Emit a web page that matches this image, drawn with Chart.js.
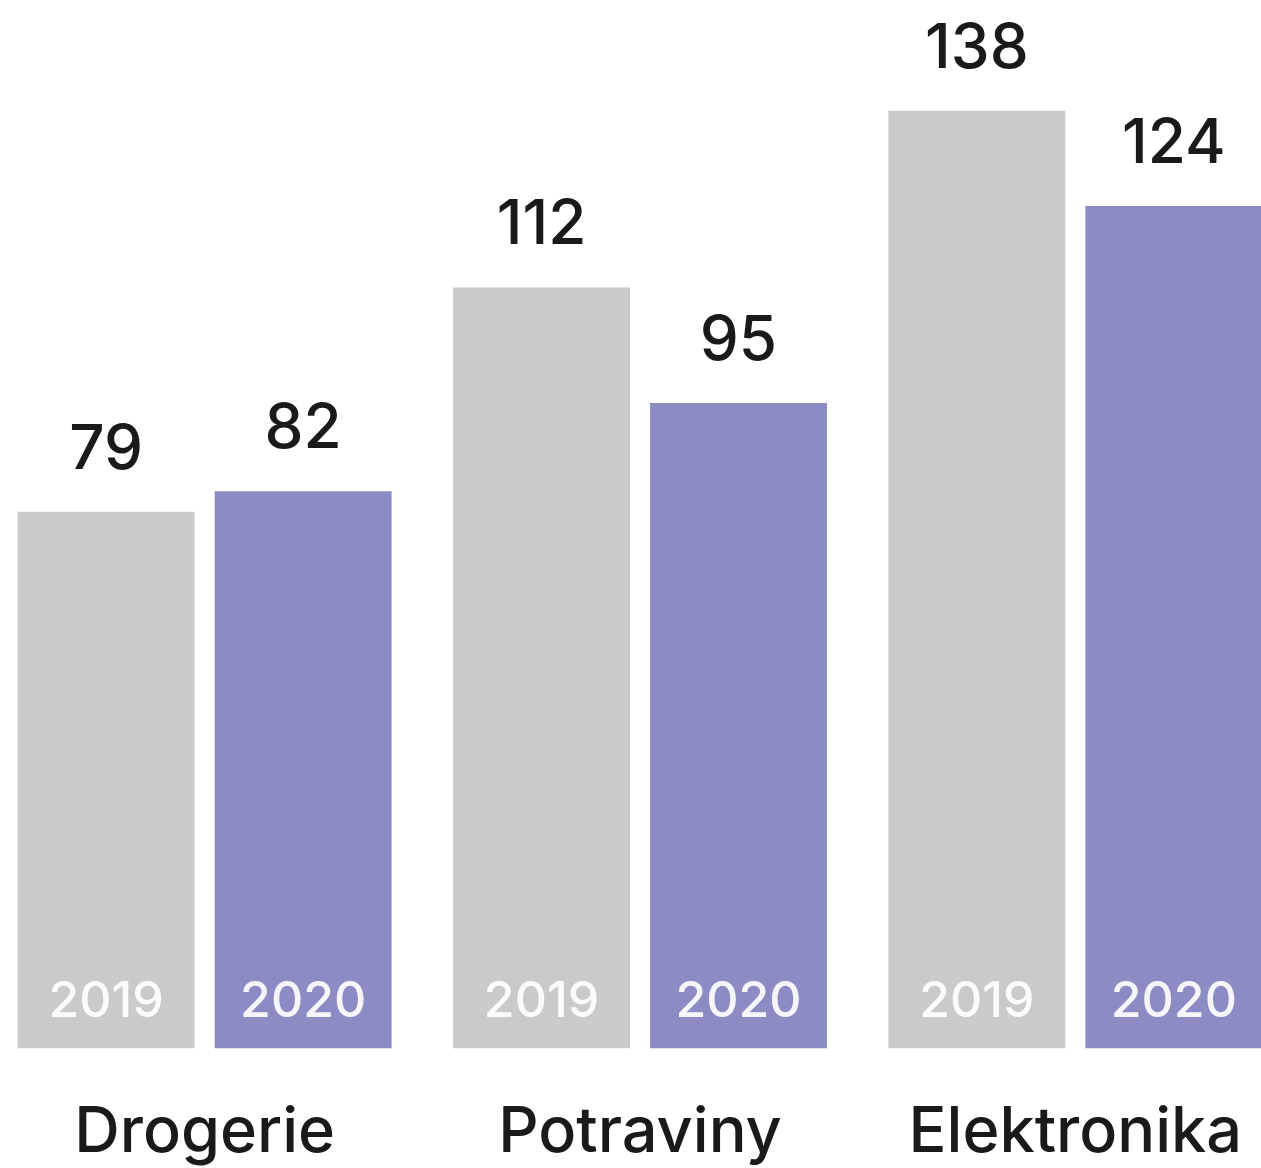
<!DOCTYPE html>
<html>
<head>
<meta charset="utf-8">
<script src="https://cdn.jsdelivr.net/npm/chart.js@4/dist/chart.umd.min.js"></script>
<style>
    html, body { margin: 0; padding: 0; background: #fff; overflow: hidden; }
    #wrap { width: 1261px; height: 1168px; overflow: hidden; position: relative; }
    #salesChart { position: absolute; left: -13px; top: 0; }
</style>
</head>
<body>
<div id="wrap"><canvas id="salesChart" width="1306" height="1220"></canvas></div>
<script>
const categories = ["Drogerie", "Potraviny", "Elektronika"];
const seriesNames = ["2019", "2020"];
const values2019 = [79, 112, 138];
const values2020 = [82, 95, 124];

const textColor = "#1a1a1a";
const fontFamily = "Inter, 'Liberation Sans', Arial, sans-serif";

// draws value above each bar and the year inside the bar bottom
const barLabels = {
    id: "barLabels",
    afterDatasetsDraw(chart) {
        const ctx = chart.ctx;
        ctx.save();
        ctx.textAlign = "center";
        ctx.textBaseline = "alphabetic";
        chart.data.datasets.forEach((ds, i) => {
            const meta = chart.getDatasetMeta(i);
            meta.data.forEach((bar, j) => {
                ctx.fillStyle = textColor;
                ctx.font = "500 62px " + fontFamily;
                ctx.fillText(String(ds.data[j]), bar.x, bar.y - 43);
                ctx.fillStyle = "rgba(255,255,255,0.92)";
                ctx.font = "500 50px " + fontFamily;
                ctx.fillText(ds.label, bar.x, bar.base - 31);
            });
        });
        ctx.restore();
    }
};

new Chart(document.getElementById("salesChart").getContext("2d"), {
    type: "bar",
    data: {
        labels: categories,
        datasets: [
            { label: seriesNames[0], data: values2019, backgroundColor: "#c9cacc" },
            { label: seriesNames[1], data: values2020, backgroundColor: "#8d8bc3" }
        ]
    },
    options: {
        responsive: false,
        animation: false,
        categoryPercentage: 0.905,
        barPercentage: 0.898,
        layout: { padding: { top: 0, left: 0, right: 0, bottom: 2 } },
        plugins: {
            legend: { display: false },
            tooltip: { enabled: false }
        },
        scales: {
            x: {
                grid: { display: false, drawTicks: false },
                border: { display: false },
                ticks: {
                    color: textColor,
                    padding: 47,
                    font: { family: fontFamily, size: 63, weight: "500" }
                }
            },
            y: {
                display: false,
                min: 0,
                max: 154.3
            }
        }
    },
    plugins: [barLabels]
});
</script>
</body>
</html>
